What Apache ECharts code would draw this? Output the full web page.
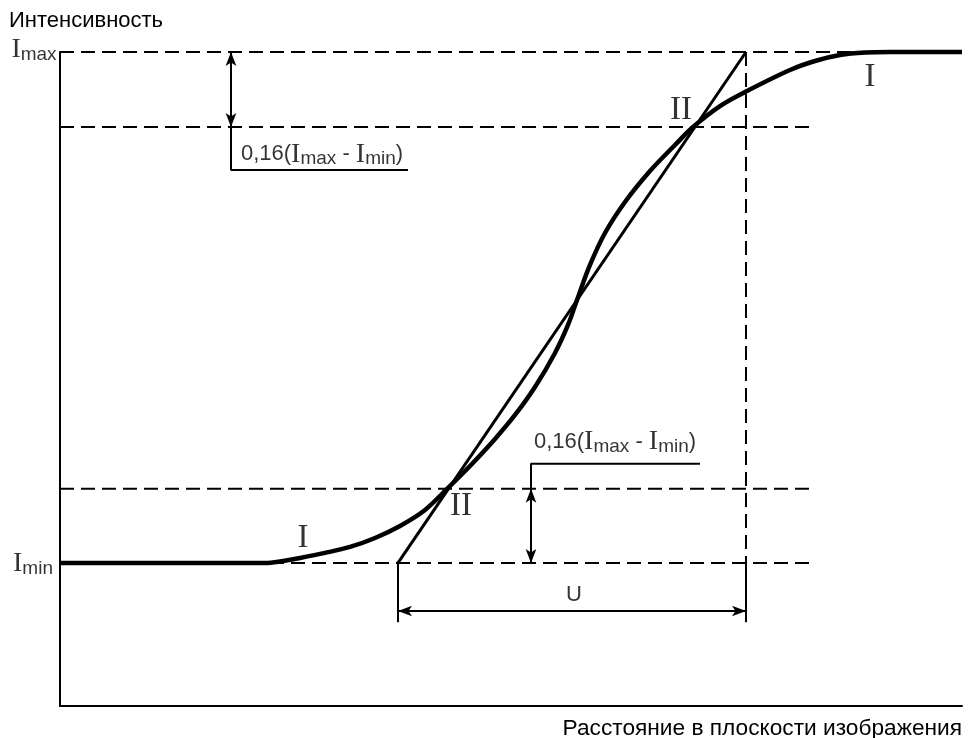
<!DOCTYPE html>
<html><head><meta charset="utf-8">
<script src="https://cdn.jsdelivr.net/npm/echarts/dist/echarts.min.js"></script>
<style>html,body{margin:0;padding:0;background:#fff}#c{width:968px;height:738px}</style>
</head><body><div id="c"></div>
<script>
// Edge-spread curve I (distance, normalised intensity: Imin = 0, Imax = 1)
const curveX = [0, 205, 220, 240, 265, 290, 315, 340, 365, 388, 410, 435, 455, 475, 495, 508, 517, 530, 545, 565, 590, 615, 633, 660, 687, 730, 755, 780, 805, 830, 902];
const curveY = [0, 0, 0.0029, 0.0098, 0.0196, 0.0313, 0.0489, 0.0724, 0.1037, 0.1468, 0.1898, 0.2427, 0.2896, 0.3444, 0.4110, 0.4658, 0.5147, 0.5832, 0.6458, 0.7065, 0.7671, 0.8180, 0.8532, 0.8943, 0.9237, 0.9648, 0.9824, 0.9941, 0.999, 1, 1];
// Tangent line II
const slopeX = [338, 686];
const slopeY = [0, 1];
// Levels
const levelImax = 1;
const levelUpper = 0.853;
const levelLower = 0.145;
const levelImin = 0;
// x positions of construction lines
const xStart = 0, xEnd = 902, xDashEnd = 755, xImaxDashEnd = 800;
const xLeftU = 338, xRightU = 686;
const yUArrow = -0.094, yUExt = -0.116;
const xUpperArrow = 171, yUpperLeader = 0.769, xUpperLeaderEnd = 348;
const xLowerArrow = 471, yLowerLeader = 0.194, xLowerLeaderEnd = 640;
const yMin = -0.28, yMax = 1;

const dashedSegs = [
  [[xStart, levelImax], [xImaxDashEnd, levelImax]],
  [[xStart, levelUpper], [xDashEnd, levelUpper]],
  [[xStart, levelLower], [xDashEnd, levelLower]],
  [[xStart, levelImin], [xDashEnd, levelImin]],
  [[xRightU, levelImax], [xRightU, levelImin]]
];
const thinSegs = [
  [[xLeftU, levelImin], [xLeftU, yUExt]],
  [[xRightU, levelImin], [xRightU, yUExt]],
  [[xUpperArrow, levelUpper], [xUpperArrow, yUpperLeader], [xUpperLeaderEnd, yUpperLeader]],
  [[xLowerArrow, levelLower], [xLowerArrow, yLowerLeader], [xLowerLeaderEnd, yLowerLeader]]
];
const arrowSegs = [
  [[xUpperArrow, levelImax], [xUpperArrow, levelUpper]],
  [[xLowerArrow, levelLower], [xLowerArrow, levelImin]],
  [[xLeftU, yUArrow], [xRightU, yUArrow]]
];

const rich = {
  s: {fontFamily: 'Liberation Sans', fontSize: 22, color: '#000'},
  I: {fontFamily: 'Liberation Serif', fontSize: 28, color: '#000'},
  sub: {fontFamily: 'Liberation Sans', fontSize: 19, color: '#000', padding: [10, 0, 0, 0]},
  R: {fontFamily: 'Liberation Serif', fontSize: 33, color: '#000'}
};
const formula = '{s|0,16(}{I|I}{sub|max}{s| - }{I|I}{sub|min}{s|)}';
const textItems = [
  {value: [-26, 1.004], text: '{I|I}{sub|max}'},
  {value: [-27, -0.002], text: '{I|I}{sub|min}'},
  {value: [262, 0.800], text: formula},
  {value: [555, 0.237], text: formula},
  {value: [514, -0.063], text: '{s|U}'},
  {value: [401, 0.111], text: '{R|II}'},
  {value: [621, 0.886], text: '{R|II}'},
  {value: [243, 0.049], text: '{R|I}'},
  {value: [810, 0.951], text: '{R|I}'}
];

const zip = (xs, ys) => xs.map((x, i) => [x, ys[i]]);
const series = [];
dashedSegs.forEach(seg => series.push({
  type: 'line', data: seg, symbol: 'none', silent: true, clip: false,
  lineStyle: {color: '#000', width: 2, type: [14, 7]}, z: 2
}));
thinSegs.forEach(seg => series.push({
  type: 'line', data: seg, symbol: 'none', silent: true, clip: false,
  lineStyle: {color: '#000', width: 2}, z: 2
}));
series.push({
  type: 'line', data: [], silent: true,
  markLine: {
    silent: true, animation: false,
    symbol: ['arrow', 'arrow'], symbolSize: 12,
    label: {show: false},
    lineStyle: {color: '#000', width: 2, type: 'solid'},
    emphasis: {disabled: true},
    data: arrowSegs.map(s => [
      {coord: s[0], symbol: 'arrow', symbolSize: [8, 14]},
      {coord: s[1], symbol: 'arrow', symbolSize: [8, 14]}
    ])
  }
});
series.push({
  type: 'line', data: zip(slopeX, slopeY), symbol: 'none', silent: true, clip: false,
  lineStyle: {color: '#000', width: 3}, z: 4
});
series.push({
  type: 'line', data: zip(curveX, curveY), symbol: 'none', silent: true, clip: false,
  smooth: 0.35,
  lineStyle: {color: '#000', width: 4.5}, z: 5
});
series.push({
  type: 'scatter', silent: true, clip: false, symbolSize: 1,
  itemStyle: {color: 'rgba(0,0,0,0)'},
  data: textItems.map(t => ({value: t.value, label: {formatter: t.text}})),
  label: {show: true, position: 'inside', rich: rich, color: '#000'}, z: 6
});

const chart = echarts.init(document.getElementById('c'));
chart.setOption({
  animation: false,
  backgroundColor: '#fff',
  grid: {left: 60, right: 6, top: 52, bottom: 32},
  xAxis: {
    type: 'value', min: xStart, max: xEnd,
    axisLine: {show: true, onZero: false, lineStyle: {color: '#000', width: 2}},
    axisTick: {show: false}, axisLabel: {show: false}, splitLine: {show: false}
  },
  yAxis: {
    type: 'value', min: yMin, max: yMax,
    axisLine: {show: true, onZero: false, lineStyle: {color: '#000', width: 2}},
    axisTick: {show: false}, axisLabel: {show: false}, splitLine: {show: false}
  },
  graphic: [
    {type: 'text', left: 9, top: 10, style: {text: 'Интенсивность', font: '22px "Liberation Sans"', fill: '#000'}},
    {type: 'text', right: 6, top: 717, style: {text: 'Расстояние в плоскости изображения', font: '22.7px "Liberation Sans"', fill: '#000'}}
  ],
  series: series
});
</script></body></html>
